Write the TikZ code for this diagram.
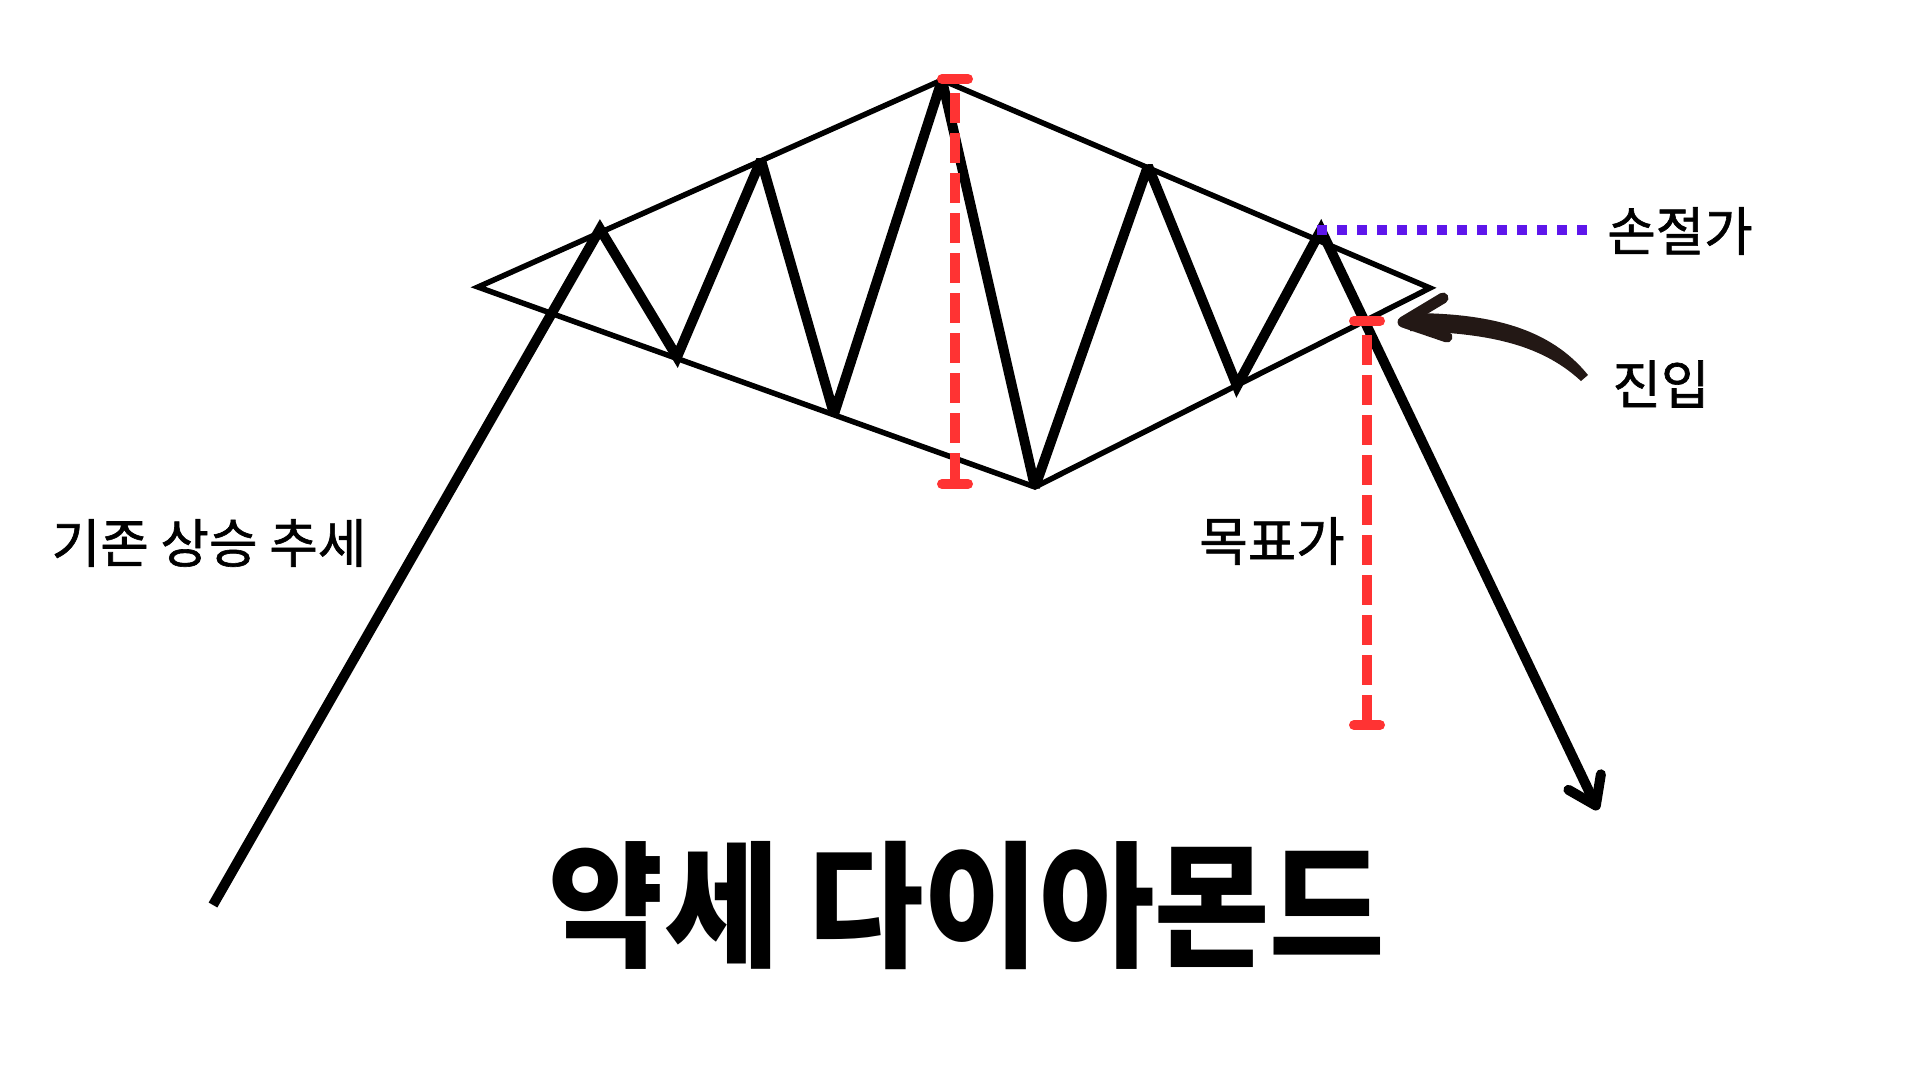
\documentclass[tikz,border=0pt]{standalone}
\usepackage{graphicx}
\usepackage{fontspec}
\newfontfamily\krfont[FakeBold=1.2]{Noto Sans CJK KR}
\newfontfamily\krtitle{Noto Sans CJK KR}
\usetikzlibrary{arrows.meta}
\definecolor{signalred}{HTML}{FF3333}
\definecolor{stoppurple}{HTML}{5E17EB}
\definecolor{brushbrown}{HTML}{231815}

\begin{document}
\begin{tikzpicture}[x=0.1mm, y=-0.1mm,
	krlabel/.style={font=\krfont\fontsize{15}{18}\selectfont, inner sep=0pt},
	outline/.style={line width=0.55mm, line join=miter},
	price/.style={line width=1mm, line join=miter, miter limit=2.5},
	measure/.style={signalred, line width=1mm, dash pattern=on 3mm off 1mm},
	tick/.style={signalred, line width=1mm, line cap=round}]
	\useasboundingbox (0,0) rectangle (1920,1080);
	
	% Diamond outline
	\coordinate (L) at (478,287);
	\coordinate (T) at (942,80);
	\coordinate (R) at (1430,288);
	\coordinate (B) at (1035,487);
	\draw[outline] (L) -- (T) -- (R) -- (B) -- cycle;
	
	% Price path
	\draw[price, -{Straight Barb[length=2.6mm, width=3.6mm, round]}] (213,905) -- (600,229) -- (677,357) -- (761,160) -- (834,414) -- (T) -- (B) -- (1148,166) -- (1237,386) -- (1321,230) -- (1598,810);
	
	% Pattern height
	\draw[measure] (955,93) -- (955,484);
	\draw[tick] (942,79) -- (968,79);
	\draw[tick] (942,484) -- (968,484);
	
	% Target from the breakout
	\draw[measure] (1367,335) -- (1367,725);
	\draw[tick] (1354,321) -- (1380,321);
	\draw[tick] (1354,725) -- (1380,725);
	
	% Stop level
	\draw[stoppurple, line width=1mm, dash pattern=on 1mm off 1mm] (1317,230) -- (1587,230);
	
	% Entry arrow
	\fill[brushbrown] (1588,375) .. controls (1550,328) and (1490,313) .. (1410,313) -- (1410,331) .. controls (1485,333) and (1540,343) .. (1581,381) -- cycle;
	\draw[brushbrown, line width=1.1mm, line cap=round, line join=round] (1443,298) -- (1403,322) -- (1447,337);
	
	% Labels
	\node[krlabel] (trend) at (209,543) {기존 상승 추세};
	\node[krlabel] (stop) at (1680,231) {손절가};
	\node[krlabel] (entry) at (1661,384) {진입};
	\node[krlabel] (target) at (1272,541) {목표가};
	\node[font=\krtitle\bfseries\fontsize{38.8}{44}\selectfont, inner sep=0pt] (title) at (967,905) {\scalebox{0.92}[1]{약세 다이아몬드}};
	
\end{tikzpicture}
\end{document}
